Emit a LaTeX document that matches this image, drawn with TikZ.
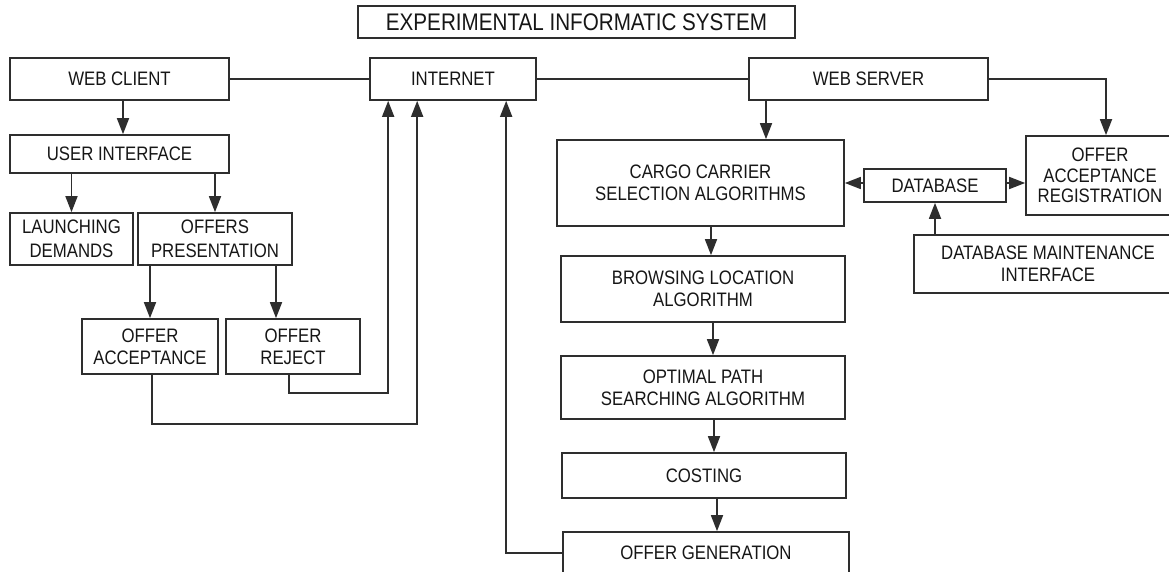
\documentclass[tikz,border=0pt]{standalone}
\usepackage{fontspec}
\setmainfont{Liberation Sans}[FakeStretch=0.86]
\usetikzlibrary{arrows.meta}
\definecolor{linegray}{HTML}{2E2E2E}
\definecolor{inkgray}{HTML}{161616}
\tikzset{
  box/.style={draw=linegray, line width=1.7pt, fill=white, align=center,
    inner sep=0pt, text=inkgray, font=\fontsize{19.5}{22}\selectfont},
  link/.style={draw=linegray, line width=1.7pt},
  arr/.style={link, -{Triangle[length=16pt,width=12pt]}}
}
\begin{document}
\begin{tikzpicture}[x=1pt,y=-1pt]
\clip (0,0) rectangle (1169,572);
\fill[white] (0,0) rectangle (1169,572);

% heading
\node[box, minimum width=437pt, minimum height=32pt, font=\fontsize{24}{26}\selectfont] (title) at (576.5,22) {EXPERIMENTAL INFORMATIC SYSTEM};

% top row
\node[box, minimum width=219pt, minimum height=42pt] (webclient) at (119.5,79) {WEB CLIENT};
\node[box, minimum width=166pt, minimum height=42pt] (internet) at (453,79) {INTERNET};
\node[box, minimum width=239pt, minimum height=42pt] (webserver) at (868.5,79) {WEB SERVER};

% client side
\node[box, minimum width=219pt, minimum height=38pt] (userif) at (119.5,154) {USER INTERFACE};
\node[box, minimum width=123pt, minimum height=52pt, font=\fontsize{19.5}{24}\selectfont] (launch) at (71.5,239) {LAUNCHING\\DEMANDS};
\node[box, minimum width=154pt, minimum height=52pt, font=\fontsize{19.5}{24}\selectfont] (offpres) at (215,239) {OFFERS\\PRESENTATION};
\node[box, minimum width=136pt, minimum height=55pt] (offacc) at (150,346.5) {OFFER\\ACCEPTANCE};
\node[box, minimum width=134pt, minimum height=55pt] (offrej) at (293,346.5) {OFFER\\REJECT};

% server side
\node[box, minimum width=287pt, minimum height=86pt] (cargo) at (700.5,183) {CARGO CARRIER\\SELECTION ALGORITHMS};
\node[box, minimum width=284pt, minimum height=66pt] (browse) at (703,289) {BROWSING LOCATION\\ALGORITHM};
\node[box, minimum width=284pt, minimum height=63pt] (optimal) at (703,387.5) {OPTIMAL PATH\\SEARCHING ALGORITHM};
\node[box, minimum width=284pt, minimum height=45pt] (costing) at (704,475.5) {COSTING};
\node[box, minimum width=286pt, minimum height=42pt] (offgen) at (706,553) {OFFER GENERATION};
\node[box, minimum width=142pt, minimum height=33pt] (database) at (935,185.5) {DATABASE};
\node[box, minimum width=148pt, minimum height=79pt, font=\fontsize{19.5}{20.5}\selectfont] (offreg) at (1100,175.5) {OFFER\\ACCEPTANCE\\REGISTRATION};
\node[box, minimum width=268pt, minimum height=58pt] (dbmaint) at (1048,264) {DATABASE MAINTENANCE\\INTERFACE};

% entry points on the internet box
\coordinate (in1) at ([xshift=19pt]internet.south west);
\coordinate (in2) at ([xshift=48pt]internet.south west);
\coordinate (in3) at ([xshift=137pt]internet.south west);
\coordinate (rj) at ([xshift=-17pt]offrej.north);
\coordinate (cg) at ([xshift=65.5pt]cargo.north);
\coordinate (rg) at ([xshift=6pt]offreg.north);
\coordinate (br) at ([xshift=8pt]browse.north);
\coordinate (op) at ([xshift=10pt]optimal.north);
\coordinate (co) at ([xshift=10pt]costing.north);
\coordinate (og) at ([xshift=11pt]offgen.north);

% network links
\draw[link] (webclient.east) -- (internet.west);
\draw[link] (internet.east) -- (webserver.west);

% client flow
\draw[arr] ([xshift=3.5pt]webclient.south) -- ([xshift=3.5pt]userif.north);
\draw[arr] (userif.south -| launch.north) -- (launch.north);
\draw[arr] (userif.south -| offpres.north) -- (offpres.north);
\draw[arr] (offpres.south -| offacc.north) -- (offacc.north);
\draw[arr] (offpres.south -| rj) -- (rj);
\draw[arr] ([xshift=-4pt]offrej.south) -- ++(0,18) -| (in1);
\draw[arr] ([xshift=2pt]offacc.south) -- ++(0,49) -| (in2);
\draw[arr] (offgen.west) -| (in3);

% server flow
\draw[arr] (webserver.east) -| (rg);
\draw[arr] (webserver.south -| cg) -- (cg);
\draw[arr] (cargo.south -| br) -- (br);
\draw[arr] (browse.south -| op) -- (op);
\draw[arr] (optimal.south -| co) -- (co);
\draw[arr] (costing.south -| og) -- (og);
\draw[arr] ([yshift=2.5pt]database.west) -- ([yshift=2.5pt]cargo.east |- database.west);
\draw[arr] ([yshift=2.5pt]database.east) -- ([yshift=2.5pt]offreg.west |- database.east);
\draw[arr] (dbmaint.north -| database.south) -- (database.south);
\end{tikzpicture}
\end{document}
